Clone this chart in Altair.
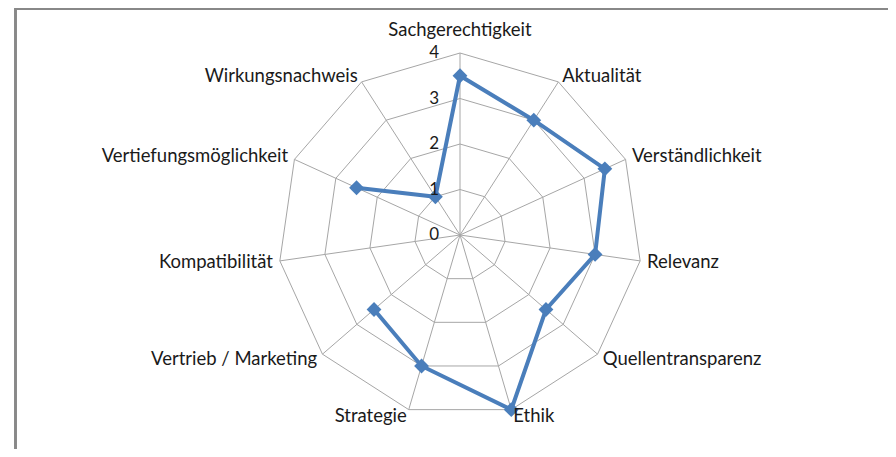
import math
import altair as alt
import pandas as pd

categories = ["Sachgerechtigkeit", "Aktualität", "Verständlichkeit", "Relevanz",
              "Quellentransparenz", "Ethik", "Strategie", "Vertrieb / Marketing",
              "Kompatibilität", "Vertiefungsmöglichkeit", "Wirkungsnachweis"]
values = [3.5, 3.0, 3.5, 3.0, 2.5, 4.0, 3.0, 2.5, None, 2.5, 1.0]
tick_levels = [0, 1, 2, 3, 4]
ring_levels = [1, 2, 3, 4]
r_max = 4

n = len(categories)
W, H = 880, 441
unit = 45.5
cx, cy = 452, 227
xdom = [-cx / unit, (W - cx) / unit]
ydom = [-(H - cy) / unit, cy / unit]

xs = alt.Scale(domain=xdom, nice=False, zero=False)
ys = alt.Scale(domain=ydom, nice=False, zero=False)

ANG = "datum.idx * 2 * PI / %d" % n

cat_df = pd.DataFrame({"idx": list(range(n)), "cat": categories,
                       "value": values})
cat_df["ord"] = [(i - 9) % n for i in range(n)]

ring_rows = []
for lv in ring_levels:
    for i in range(n + 1):
        ring_rows.append({"level": lv, "idx": i})
ring_df = pd.DataFrame(ring_rows)

tick_df = pd.DataFrame({"level": tick_levels, "label": [str(t) for t in tick_levels]})

grid_col = "#a6a6a6"
line_col = "#4a7ebb"
font = "Lato"
txt_col = "#1a1a1a"
lab_size = 18.5

rings = alt.Chart(ring_df).transform_calculate(
    x="datum.level * sin(%s)" % ANG, y="datum.level * cos(%s)" % ANG
).mark_line(color=grid_col, strokeWidth=1).encode(
    x=alt.X("x:Q", scale=xs, axis=None),
    y=alt.Y("y:Q", scale=ys, axis=None),
    detail="level:N",
    order="idx:Q",
)

spokes = alt.Chart(cat_df).transform_calculate(
    x2="%d * sin(%s)" % (r_max, ANG), y2="%d * cos(%s)" % (r_max, ANG), zx="0", zy="0"
).mark_rule(color=grid_col, strokeWidth=1).encode(
    x=alt.X("zx:Q", scale=xs, axis=None),
    y=alt.Y("zy:Q", scale=ys, axis=None),
    x2="x2:Q", y2="y2:Q",
)

base = alt.Chart(cat_df).transform_filter("isValid(datum.value)").transform_calculate(
    x="datum.value * sin(%s)" % ANG, y="datum.value * cos(%s)" % ANG
)
series_line = base.mark_line(color=line_col, strokeWidth=4).encode(
    x=alt.X("x:Q", scale=xs, axis=None),
    y=alt.Y("y:Q", scale=ys, axis=None),
    order="ord:Q",
)
series_pts = base.mark_point(shape="diamond", filled=True, color=line_col, size=220, opacity=1).encode(
    x=alt.X("x:Q", scale=xs, axis=None),
    y=alt.Y("y:Q", scale=ys, axis=None),
)

lab_r = r_max + 7 / unit
lab_base = alt.Chart(cat_df).transform_calculate(
    x="%f * sin(%s)" % (lab_r, ANG), y="%f * cos(%s)" % (lab_r, ANG)
)
lab_enc = dict(x=alt.X("x:Q", scale=xs, axis=None), y=alt.Y("y:Q", scale=ys, axis=None), text="cat:N")
lab_top = lab_base.transform_filter("datum.idx == 0").mark_text(
    font=font, fontSize=lab_size, color=txt_col, align="center", baseline="bottom", dy=-6
).encode(**lab_enc)
lab_right = lab_base.transform_filter("datum.idx >= 1 && datum.idx <= 5").mark_text(
    font=font, fontSize=lab_size, color=txt_col, align="left", baseline="middle"
).encode(**lab_enc)
lab_left = lab_base.transform_filter("datum.idx >= 6").mark_text(
    font=font, fontSize=lab_size, color=txt_col, align="right", baseline="middle"
).encode(**lab_enc)

ticks = alt.Chart(tick_df).transform_calculate(x="0").mark_text(
    font=font, fontSize=17, color=txt_col, align="right", baseline="middle", dx=-21
).encode(
    x=alt.X("x:Q", scale=xs, axis=None),
    y=alt.Y("level:Q", scale=ys, axis=None),
    text="label:N",
)

border_top = alt.Chart(tick_df).mark_rule(color="#888888", strokeWidth=2).encode(
    x=alt.value(7), x2=alt.value(W), y=alt.value(1)
)
border_left = alt.Chart(tick_df).mark_rule(color="#888888", strokeWidth=2).encode(
    x=alt.value(7.5), y=alt.value(0), y2=alt.value(H)
)

chart = alt.layer(
    rings, spokes, series_line, series_pts, lab_top, lab_right, lab_left, ticks,
    border_top, border_left
).properties(
    width=W, height=H, padding=0, autosize=alt.AutoSizeParams(type="none")
).configure_view(stroke=None)

chart.save("out.html", embed_options={"renderer": "svg", "actions": False})
